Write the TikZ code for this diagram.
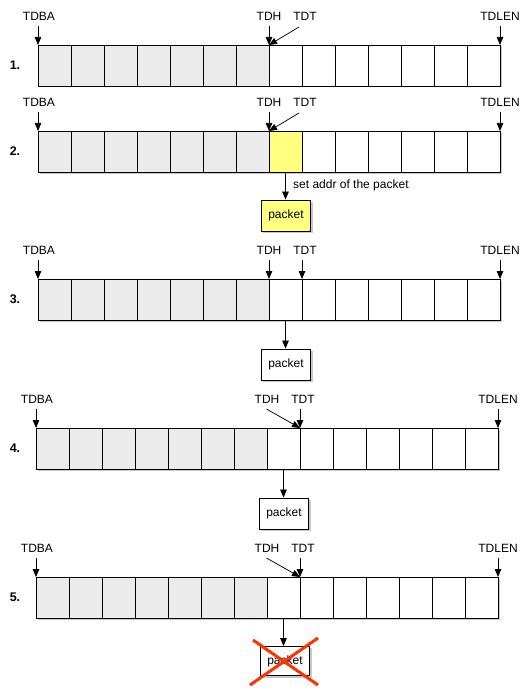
\documentclass[tikz,border=0pt]{standalone}
\usepackage{fontspec}
\setmainfont{Liberation Sans}
\usetikzlibrary{arrows.meta}
\definecolor{cellgray}{HTML}{EBEBEB}
\definecolor{pktyellow}{HTML}{FFFF80}
\definecolor{xred}{HTML}{FF3300}
\definecolor{shadowc}{HTML}{C8C8C8}
\tikzset{
  cell/.style={draw=black, line width=0.8pt, minimum width=33pt, minimum height=41pt,
    inner sep=0pt, outer sep=0pt, anchor=north west},
  lbl/.style={font=\fontsize{12}{13}\selectfont, inner sep=0pt},
  rowlbl/.style={font=\fontsize{12.5}{14}\selectfont\bfseries, inner sep=0pt},
  ptr/.style={-{Triangle[length=8pt,width=6.5pt]}, line width=0.75pt},
  pktbox/.style={draw=black, line width=0.8pt, minimum width=49pt, minimum height=31pt,
    inner sep=0pt, lbl},
  cross/.style={draw=xred, line width=3pt}
}
% #1 row name, #2 left x, #3 top y, #4 index of the yellow cell (-1 none), #5 row number
\newcommand\bufrow[5]{%
  \fill[shadowc] (#2+1.5,#3+1.5) rectangle (#2+463.5,#3+42.5);
  \foreach \i in {0,...,13}{%
    \ifnum\i<7 \def\cf{cellgray}\else\def\cf{white}\fi
    \ifnum\i=#4 \def\cf{pktyellow}\fi
    \node[cell, fill=\cf] (#1c\i) at (#2+33*\i,#3) {};
  }%
  \node[rowlbl] (#1num) at (15,#3+20) {#5};
  \node[lbl] (#1ba) at (#2+1,#3-28.5) {TDBA};
  \node[lbl] (#1h) at (#2+231,#3-28.5) {TDH};
  \node[lbl] (#1t) at (#2+267,#3-28.5) {TDT};
  \node[lbl] (#1len) at (#2+462,#3-28.5) {TDLEN};
  \draw[ptr, shorten <=5pt] (#1ba.south -| #1c0.north west) -- (#1c0.north west);
  \draw[ptr, shorten <=5pt] (#1len.south -| #1c13.north east) -- (#1c13.north east);
}
\begin{document}
\begin{tikzpicture}[x=1pt, y=-1pt]
\useasboundingbox (0,0) rectangle (531,698);
\fill[white] (0,0) rectangle (531,698);

% ---------- row 1 ----------
\bufrow{ra}{38}{45}{-1}{1.}
\draw[ptr, shorten <=5pt] (rah.south -| rac7.north west) -- (rac7.north west);
\coordinate (ratd) at (299,27);
\draw[ptr] (ratd) -- (rac7.north west);

% ---------- row 2 ----------
\bufrow{rb}{38}{131}{7}{2.}
\draw[ptr, shorten <=5pt] (rbh.south -| rbc7.north west) -- (rbc7.north west);
\coordinate (rbtd) at (299,113);
\draw[ptr] (rbtd) -- (rbc7.north west);
\fill[shadowc] (262.5,201.5) rectangle (312.5,232.5);
\node[pktbox, fill=pktyellow] (pkb) at (286,215.5) {packet};
\draw[ptr] (rbc7.south) -- (rbc7.south |- pkb.north);
\node[lbl, anchor=west] (setaddr) at (293,185.5) {set addr of the packet};

% ---------- row 3 ----------
\bufrow{rc}{38}{279}{-1}{3.}
\draw[ptr, shorten <=5pt] (rch.south -| rcc7.north west) -- (rcc7.north west);
\draw[ptr, shorten <=5pt] (rct.south -| rcc8.north west) -- (rcc8.north west);
\fill[shadowc] (262.5,350.5) rectangle (312.5,381.5);
\node[pktbox, fill=white] (pkc) at (286,364.5) {packet};
\draw[ptr] (rcc7.south) -- (rcc7.south |- pkc.north);

% ---------- row 4 ----------
\bufrow{rd}{36}{428}{-1}{4.}
\coordinate (rdhd) at (266.5,409);
\draw[ptr] (rdhd) -- (rdc8.north west);
\draw[ptr, shorten <=5pt] (rdt.south -| rdc8.north west) -- (rdc8.north west);
\fill[shadowc] (260.5,499.5) rectangle (310.5,530.5);
\node[pktbox, fill=white] (pkd) at (284,513.5) {packet};
\draw[ptr] (rdc7.south) -- (rdc7.south |- pkd.north);

% ---------- row 5 ----------
\bufrow{re}{36}{577}{-1}{5.}
\coordinate (rehd) at (266.5,558);
\draw[ptr] (rehd) -- (rec8.north west);
\draw[ptr, shorten <=5pt] (ret.south -| rec8.north west) -- (rec8.north west);
\fill[shadowc] (261.5,648) rectangle (311.5,677.5);
\node[pktbox, fill=white, minimum height=29pt] (pke) at (285,661) {packet};
\draw[ptr] (rec7.south) -- (rec7.south |- pke.north);
\coordinate (xa1) at (253,640);
\coordinate (xa2) at (318,685);
\coordinate (xb1) at (318,638);
\coordinate (xb2) at (250,685);
\draw[cross] (xa1) -- (xa2);
\draw[cross] (xb1) -- (xb2);
\end{tikzpicture}
\end{document}
